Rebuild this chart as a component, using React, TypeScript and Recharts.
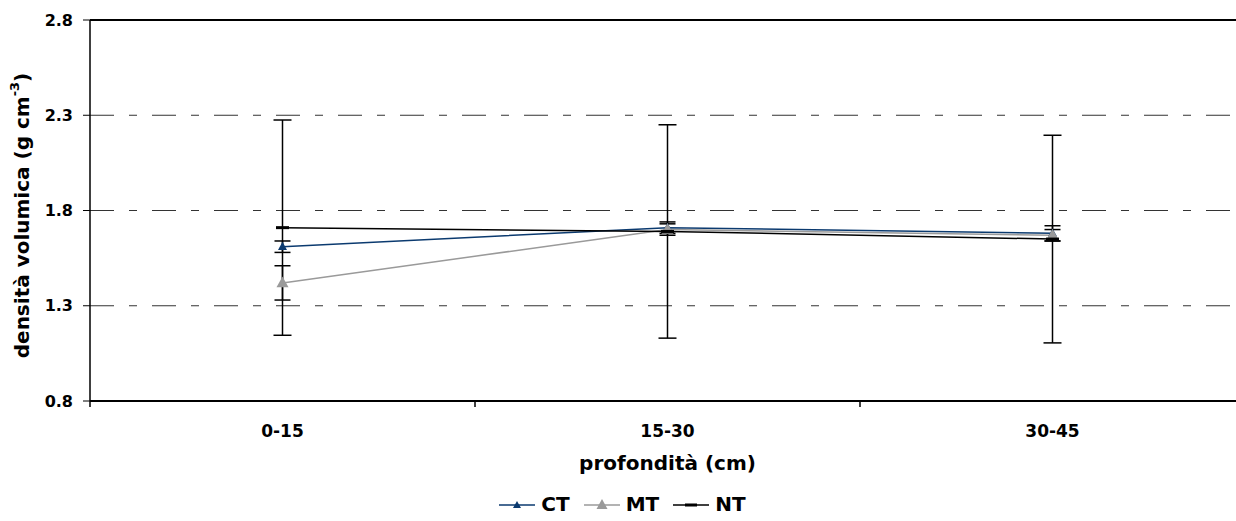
import React from 'react';
import { LineChart, Line, XAxis, YAxis, CartesianGrid, ErrorBar, ReferenceLine, Legend, Label } from 'recharts';

// soil bulk density by sampling depth, three tillage systems
const depths = ['0-15', '15-30', '30-45'];
const ctValues = [1.61, 1.71, 1.68];
const mtValues = [1.42, 1.70, 1.67];
const ntValues = [1.71, 1.69, 1.65];
const ctErrors = [0.03, 0.03, 0.04];
const mtErrors = [0.09, 0.03, 0.03];
const ntErrors = [0.565, 0.56, 0.545];
const yTicks = [0.8, 1.3, 1.8, 2.3, 2.8];

const data = depths.map((depth, i) => ({
  depth,
  CT: ctValues[i],
  MT: mtValues[i],
  NT: ntValues[i],
  ctErr: ctErrors[i],
  mtErr: mtErrors[i],
  ntErr: ntErrors[i],
}));

const FONT = '"DejaVu Sans", Verdana, sans-serif';
const CT_COLOR = '#0b3a6f';
const MT_COLOR = '#9a9a9a';
const NT_COLOR = '#000000';

const triangleDot = (color: string, size: number) => (props: any) => {
  const { cx, cy, index } = props;
  if (cx == null || cy == null) return <g key={index} />;
  const h = size * 0.9;
  return (
    <path
      key={index}
      d={`M${cx},${cy - h * 0.6} L${cx + size / 2},${cy + h * 0.4} L${cx - size / 2},${cy + h * 0.4} Z`}
      fill={color}
    />
  );
};

const dashDot = (props: any) => {
  const { cx, cy, index } = props;
  if (cx == null || cy == null) return <g key={index} />;
  return <rect key={index} x={cx - 6.5} y={cy - 1.5} width={13} height={3} fill={NT_COLOR} />;
};

// category label at band centre, tick mark on the band's left edge
const DepthTick = (props: any) => {
  const { x, y, payload } = props;
  const half = payload && payload.offset != null ? payload.offset : 0;
  return (
    <g>
      <line x1={x - half} x2={x - half} y1={y} y2={y + 6} stroke="#000" strokeWidth={1.5} />
      <text x={x} y={y + 36} textAnchor="middle" fontFamily={FONT} fontWeight="bold" fontSize={17} fill="#000">
        {payload.value}
      </text>
    </g>
  );
};

const YTitle = (props: any) => {
  const { viewBox } = props;
  const cx = viewBox.x + 22;
  const cy = viewBox.y + viewBox.height / 2 + 5;
  return (
    <text
      transform={`translate(${cx},${cy}) rotate(-90)`}
      textAnchor="middle"
      dominantBaseline="central"
      fontFamily={FONT}
      fontWeight="bold"
      fontSize={20}
      fill="#000"
    >
      densità volumica (g cm
      <tspan dy={-8} fontSize={13}>-3</tspan>
      <tspan dy={8}>)</tspan>
    </text>
  );
};

const XTitle = (props: any) => {
  const { viewBox } = props;
  return (
    <text
      x={viewBox.x + viewBox.width / 2}
      y={viewBox.y + 69}
      textAnchor="middle"
      fontFamily={FONT}
      fontWeight="bold"
      fontSize={20}
      fill="#000"
    >
      profondità (cm)
    </text>
  );
};

const legendItems = [
  { name: 'CT', color: CT_COLOR, marker: 'tri-small' },
  { name: 'MT', color: MT_COLOR, marker: 'tri-big' },
  { name: 'NT', color: NT_COLOR, marker: 'dash' },
];

const LegendContent = () => (
  <div style={{ display: 'flex', justifyContent: 'center', alignItems: 'center', gap: 14, marginTop: 12 }}>
    {legendItems.map((item) => (
      <div key={item.name} style={{ display: 'flex', alignItems: 'center', gap: 6 }}>
        <svg width={36} height={14}>
          <line x1={0} x2={36} y1={8} y2={8} stroke={item.color} strokeWidth={1.5} />
          {item.marker === 'tri-small' && <path d="M18,4 L22,11 L14,11 Z" fill={item.color} />}
          {item.marker === 'tri-big' && <path d="M18,2 L23.5,12 L12.5,12 Z" fill={item.color} />}
          {item.marker === 'dash' && <rect x={12} y={6.5} width={12} height={3} fill={item.color} />}
        </svg>
        <span style={{ fontFamily: FONT, fontWeight: 'bold', fontSize: 20, color: '#000', lineHeight: '22px' }}>
          {item.name}
        </span>
      </div>
    ))}
  </div>
);

export default function App() {
  return (
    <div style={{ position: 'absolute', left: 0, top: 0, width: 1236, height: 521, overflow: 'hidden', background: '#fff' }}>
      <LineChart width={1260} height={521} data={data} margin={{ top: 20, right: 15, left: 0, bottom: 0 }}>
        <CartesianGrid vertical={false} stroke="#333" strokeDasharray="24 15 8 15" />
        <XAxis
          dataKey="depth"
          scale="band"
          height={80}
          tickSize={0}
          tickMargin={0}
          tick={<DepthTick />}
          axisLine={{ stroke: '#000', strokeWidth: 2 }}
          interval={0}
        >
          <Label content={<XTitle />} />
        </XAxis>
        <YAxis
          domain={[0.8, 2.8]}
          ticks={yTicks}
          width={90}
          tickSize={7}
          tickMargin={10}
          tickFormatter={(v: number) => v.toFixed(1)}
          tick={{ fill: '#000', fontFamily: FONT, fontWeight: 'bold', fontSize: 16 }}
          axisLine={{ stroke: '#000', strokeWidth: 1.5 }}
          tickLine={{ stroke: '#000' }}
        >
          <Label content={<YTitle />} />
        </YAxis>
        <ReferenceLine y={2.8} stroke="#000" strokeWidth={2} />
        <Legend verticalAlign="bottom" height={40} content={<LegendContent />} />
        <Line
          dataKey="CT"
          stroke={CT_COLOR}
          strokeWidth={1.5}
          dot={triangleDot(CT_COLOR, 9)}
          activeDot={false}
          isAnimationActive={false}
        >
          <ErrorBar dataKey="ctErr" direction="y" width={8} stroke="#000" strokeWidth={1.5} />
        </Line>
        <Line
          dataKey="MT"
          stroke={MT_COLOR}
          strokeWidth={1.5}
          dot={triangleDot(MT_COLOR, 12)}
          activeDot={false}
          isAnimationActive={false}
        >
          <ErrorBar dataKey="mtErr" direction="y" width={8} stroke="#000" strokeWidth={1.5} />
        </Line>
        <Line
          dataKey="NT"
          stroke={NT_COLOR}
          strokeWidth={1.5}
          dot={dashDot}
          activeDot={false}
          isAnimationActive={false}
        >
          <ErrorBar dataKey="ntErr" direction="y" width={9} stroke="#000" strokeWidth={1.5} />
        </Line>
      </LineChart>
    </div>
  );
}
